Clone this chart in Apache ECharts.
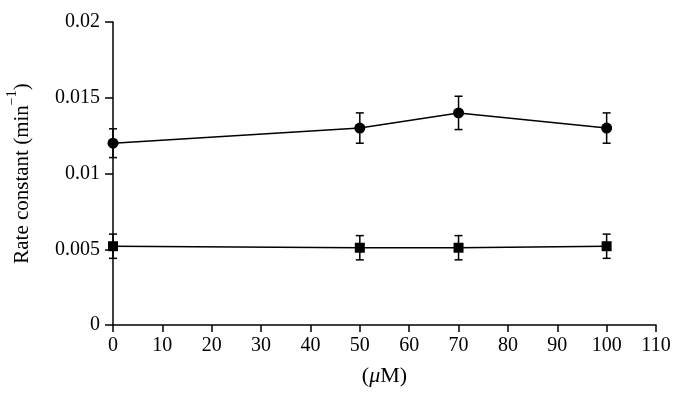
<!DOCTYPE html>
<html>
<head>
<meta charset="utf-8">
<script src="https://cdn.jsdelivr.net/npm/echarts@6/dist/echarts.min.js"></script>
<style>
  html, body { margin: 0; padding: 0; background: #fff; }
  #chart { width: 684px; height: 408px; }
</style>
</head>
<body>
<div id="chart"></div>
<script>
// concentration (uM)
const conc = [0, 50, 70, 100]
// circles series
const circleVals = [0.012, 0.013, 0.014, 0.013]
const circleErr = [0.00095, 0.001, 0.0011, 0.001]
// squares series
const squareVals = [0.0052, 0.0051, 0.0051, 0.0052]
const squareErr = [0.0008, 0.0008, 0.0008, 0.0008]

const font = 'Liberation Serif'
const chart = echarts.init(document.getElementById('chart'))

const errData = (vals, errs) => conc.map((x, i) => [x, vals[i] - errs[i], vals[i] + errs[i]])

const renderErr = (params, api) => {
  const lo = api.coord([api.value(0), api.value(1)])
  const hi = api.coord([api.value(0), api.value(2)])
  const w = 4
  const style = { stroke: '#000', lineWidth: 1.5 }
  return {
    type: 'group',
    children: [
      { type: 'line', shape: { x1: lo[0], y1: lo[1], x2: hi[0], y2: hi[1] }, style },
      { type: 'line', shape: { x1: lo[0] - w, y1: lo[1], x2: lo[0] + w, y2: lo[1] }, style },
      { type: 'line', shape: { x1: hi[0] - w, y1: hi[1], x2: hi[0] + w, y2: hi[1] }, style }
    ]
  }
}

chart.setOption({
  animation: false,
  backgroundColor: '#fff',
  grid: { left: 113, right: 28, top: 22, bottom: 83, containLabel: false, outerBoundsMode: 'none' },
  xAxis: {
    type: 'value',
    min: 0,
    max: 110,
    interval: 10,
    name: '{p|(}{i|μ}{p|M)}',
    nameLocation: 'middle',
    nameGap: 40,
    nameTextStyle: {
      rich: {
        p: { fontFamily: font, fontSize: 22, color: '#000' },
        i: { fontFamily: font, fontSize: 22, fontStyle: 'italic', color: '#000' }
      }
    },
    axisLine: { lineStyle: { color: '#000', width: 1.5 } },
    axisTick: { length: 7, lineStyle: { color: '#000', width: 1.5 } },
    axisLabel: { fontFamily: font, fontSize: 20, color: '#000', margin: 11 },
    splitLine: { show: false }
  },
  yAxis: {
    type: 'value',
    min: 0,
    max: 0.02,
    interval: 0.005,
    name: '{a|Rate constant (min}{s|−1}{a|)}',
    nameLocation: 'middle',
    nameGap: 80,
    nameTextStyle: {
      rich: {
        a: { fontFamily: font, fontSize: 21, color: '#000', lineHeight: 28, verticalAlign: 'bottom' },
        s: { fontFamily: font, fontSize: 14, color: '#000', lineHeight: 28, verticalAlign: 'top' }
      }
    },
    axisLine: { show: true, lineStyle: { color: '#000', width: 1.5 } },
    axisTick: { show: true, length: 8, lineStyle: { color: '#000', width: 1.5 } },
    axisLabel: {
      fontFamily: font, fontSize: 20, color: '#000', margin: 13,
      formatter: v => String(+v.toFixed(3))
    },
    splitLine: { show: false }
  },
  series: [
    {
      type: 'custom',
      renderItem: renderErr,
      data: errData(circleVals, circleErr),
      z: 1
    },
    {
      type: 'custom',
      renderItem: renderErr,
      data: errData(squareVals, squareErr),
      z: 1
    },
    {
      type: 'line',
      data: conc.map((x, i) => [x, circleVals[i]]),
      symbol: 'circle',
      symbolSize: 11,
      itemStyle: { color: '#000' },
      lineStyle: { color: '#000', width: 1.5 },
      z: 3
    },
    {
      type: 'line',
      data: conc.map((x, i) => [x, squareVals[i]]),
      symbol: 'rect',
      symbolSize: 10,
      itemStyle: { color: '#000' },
      lineStyle: { color: '#000', width: 1.5 },
      z: 3
    }
  ]
})
</script>
</body>
</html>
